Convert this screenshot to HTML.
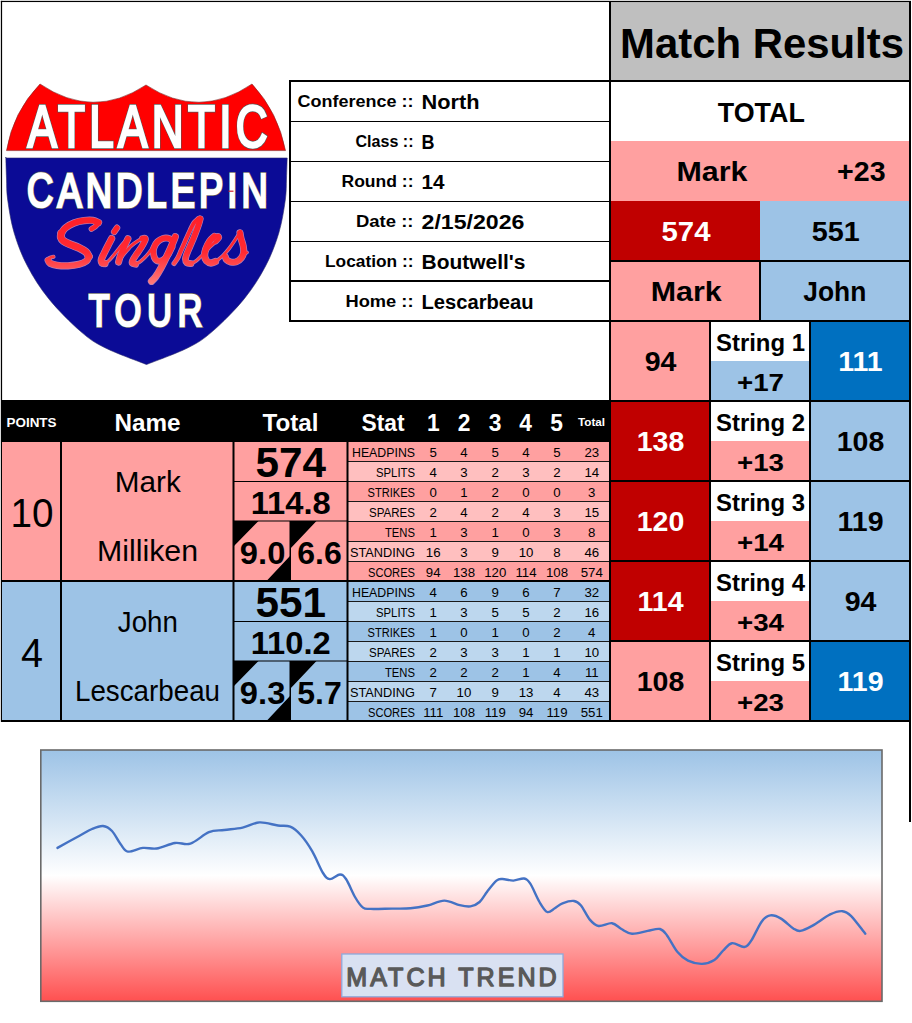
<!DOCTYPE html>
<html><head><meta charset="utf-8"><title>Match Results</title>
<style>
html,body{margin:0;padding:0;background:#fff;}
body{width:912px;height:1023px;overflow:hidden;}
svg{display:block;font-family:"Liberation Sans",sans-serif;}
</style></head><body>
<svg width="912" height="1023" viewBox="0 0 912 1023">
<rect x="0" y="0" width="912" height="1023" fill="#fff"/>
<rect x="610" y="2" width="300" height="79" fill="#BFBFBF"/>
<rect x="610" y="81" width="300" height="60" fill="#fff"/>
<rect x="610" y="141" width="300" height="60" fill="#FFA0A0"/>
<rect x="610" y="201" width="150" height="60" fill="#C00000"/>
<rect x="760" y="201" width="150" height="60" fill="#9DC3E6"/>
<rect x="610" y="261" width="150" height="60" fill="#FFA0A0"/>
<rect x="760" y="261" width="150" height="60" fill="#9DC3E6"/>
<text x="762" y="57.8" font-size="41.8" font-weight="bold" text-anchor="middle" fill="#000" textLength="284.00" lengthAdjust="spacingAndGlyphs">Match Results</text>
<text x="761.3" y="121.6" font-size="27" font-weight="bold" text-anchor="middle" fill="#000" textLength="87.00" lengthAdjust="spacingAndGlyphs">TOTAL</text>
<text x="712" y="181.3" font-size="26.8" font-weight="bold" text-anchor="middle" fill="#000" textLength="71.00" lengthAdjust="spacingAndGlyphs">Mark</text>
<text x="861.3" y="181.3" font-size="26.8" font-weight="bold" text-anchor="middle" fill="#000" textLength="48.50" lengthAdjust="spacingAndGlyphs">+23</text>
<text x="686" y="241.2" font-size="26.8" font-weight="bold" text-anchor="middle" fill="#fff" textLength="49.00" lengthAdjust="spacingAndGlyphs">574</text>
<text x="835.7" y="241.2" font-size="26.8" font-weight="bold" text-anchor="middle" fill="#000" textLength="48.00" lengthAdjust="spacingAndGlyphs">551</text>
<text x="686.2" y="301.2" font-size="26.8" font-weight="bold" text-anchor="middle" fill="#000" textLength="71.00" lengthAdjust="spacingAndGlyphs">Mark</text>
<text x="834.8" y="301.2" font-size="26.8" font-weight="bold" text-anchor="middle" fill="#000" textLength="63.00" lengthAdjust="spacingAndGlyphs">John</text>
<rect x="610" y="321" width="100" height="80" fill="#FFA0A0"/>
<rect x="710" y="321" width="100" height="40" fill="#fff"/>
<rect x="710" y="361" width="100" height="40" fill="#9DC3E6"/>
<rect x="810" y="321" width="100" height="80" fill="#0070C0"/>
<text x="660.5" y="371.2" font-size="28.5" font-weight="bold" text-anchor="middle" fill="#000" textLength="31.70" lengthAdjust="spacingAndGlyphs">94</text>
<text x="860.5" y="371.2" font-size="28.5" font-weight="bold" text-anchor="middle" fill="#fff" textLength="44.40" lengthAdjust="spacingAndGlyphs">111</text>
<text x="760.5" y="351" font-size="24" font-weight="bold" text-anchor="middle" fill="#000" textLength="89.00" lengthAdjust="spacingAndGlyphs">String 1</text>
<text x="760.5" y="391" font-size="24" font-weight="bold" text-anchor="middle" fill="#000" textLength="47.00" lengthAdjust="spacingAndGlyphs">+17</text>
<rect x="610" y="320" width="300" height="2" fill="#000"/>
<rect x="610" y="401" width="100" height="80" fill="#C00000"/>
<rect x="710" y="401" width="100" height="40" fill="#fff"/>
<rect x="710" y="441" width="100" height="40" fill="#FFA0A0"/>
<rect x="810" y="401" width="100" height="80" fill="#9DC3E6"/>
<text x="660.5" y="451.2" font-size="28.5" font-weight="bold" text-anchor="middle" fill="#fff" textLength="47.55" lengthAdjust="spacingAndGlyphs">138</text>
<text x="860.5" y="451.2" font-size="28.5" font-weight="bold" text-anchor="middle" fill="#000" textLength="47.55" lengthAdjust="spacingAndGlyphs">108</text>
<text x="760.5" y="431" font-size="24" font-weight="bold" text-anchor="middle" fill="#000" textLength="89.00" lengthAdjust="spacingAndGlyphs">String 2</text>
<text x="760.5" y="471" font-size="24" font-weight="bold" text-anchor="middle" fill="#000" textLength="47.00" lengthAdjust="spacingAndGlyphs">+13</text>
<rect x="610" y="400" width="300" height="2" fill="#000"/>
<rect x="610" y="481" width="100" height="80" fill="#C00000"/>
<rect x="710" y="481" width="100" height="40" fill="#fff"/>
<rect x="710" y="521" width="100" height="40" fill="#FFA0A0"/>
<rect x="810" y="481" width="100" height="80" fill="#9DC3E6"/>
<text x="660.5" y="531.2" font-size="28.5" font-weight="bold" text-anchor="middle" fill="#fff" textLength="47.55" lengthAdjust="spacingAndGlyphs">120</text>
<text x="860.5" y="531.2" font-size="28.5" font-weight="bold" text-anchor="middle" fill="#000" textLength="45.98" lengthAdjust="spacingAndGlyphs">119</text>
<text x="760.5" y="511" font-size="24" font-weight="bold" text-anchor="middle" fill="#000" textLength="89.00" lengthAdjust="spacingAndGlyphs">String 3</text>
<text x="760.5" y="551" font-size="24" font-weight="bold" text-anchor="middle" fill="#000" textLength="47.00" lengthAdjust="spacingAndGlyphs">+14</text>
<rect x="610" y="480" width="300" height="2" fill="#000"/>
<rect x="610" y="561" width="100" height="80" fill="#C00000"/>
<rect x="710" y="561" width="100" height="40" fill="#fff"/>
<rect x="710" y="601" width="100" height="40" fill="#FFA0A0"/>
<rect x="810" y="561" width="100" height="80" fill="#9DC3E6"/>
<text x="660.5" y="611.2" font-size="28.5" font-weight="bold" text-anchor="middle" fill="#fff" textLength="45.98" lengthAdjust="spacingAndGlyphs">114</text>
<text x="860.5" y="611.2" font-size="28.5" font-weight="bold" text-anchor="middle" fill="#000" textLength="31.70" lengthAdjust="spacingAndGlyphs">94</text>
<text x="760.5" y="591" font-size="24" font-weight="bold" text-anchor="middle" fill="#000" textLength="89.00" lengthAdjust="spacingAndGlyphs">String 4</text>
<text x="760.5" y="631" font-size="24" font-weight="bold" text-anchor="middle" fill="#000" textLength="47.00" lengthAdjust="spacingAndGlyphs">+34</text>
<rect x="610" y="560" width="300" height="2" fill="#000"/>
<rect x="610" y="641" width="100" height="80" fill="#FFA0A0"/>
<rect x="710" y="641" width="100" height="40" fill="#fff"/>
<rect x="710" y="681" width="100" height="40" fill="#FFA0A0"/>
<rect x="810" y="641" width="100" height="80" fill="#0070C0"/>
<text x="660.5" y="691.2" font-size="28.5" font-weight="bold" text-anchor="middle" fill="#000" textLength="47.55" lengthAdjust="spacingAndGlyphs">108</text>
<text x="860.5" y="691.2" font-size="28.5" font-weight="bold" text-anchor="middle" fill="#fff" textLength="45.98" lengthAdjust="spacingAndGlyphs">119</text>
<text x="760.5" y="671" font-size="24" font-weight="bold" text-anchor="middle" fill="#000" textLength="89.00" lengthAdjust="spacingAndGlyphs">String 5</text>
<text x="760.5" y="711" font-size="24" font-weight="bold" text-anchor="middle" fill="#000" textLength="47.00" lengthAdjust="spacingAndGlyphs">+23</text>
<rect x="610" y="640" width="300" height="2" fill="#000"/>
<rect x="610" y="720" width="300" height="2" fill="#000"/>
<rect x="709" y="321" width="2" height="400" fill="#000"/>
<rect x="809" y="321" width="2" height="400" fill="#000"/>
<rect x="610" y="80" width="300" height="2" fill="#000"/>
<rect x="610" y="260" width="300" height="2" fill="#000"/>
<rect x="759" y="261" width="2" height="60" fill="#000"/>
<rect x="909" y="1" width="2" height="821" fill="#000"/>
<rect x="0.85" y="0.85" width="1.25" height="721" fill="#000"/>
<rect x="0.85" y="0.85" width="910.1" height="1.2" fill="#000"/>
<text x="413.5" y="107.2" font-size="17.3" font-weight="bold" text-anchor="end" fill="#000" textLength="116.00" lengthAdjust="spacingAndGlyphs">Conference ::</text>
<text x="421.5" y="109" font-size="20" font-weight="bold" text-anchor="start" fill="#000" textLength="58.00" lengthAdjust="spacingAndGlyphs">North</text>
<text x="413.5" y="147.2" font-size="17.3" font-weight="bold" text-anchor="end" fill="#000" textLength="58.00" lengthAdjust="spacingAndGlyphs">Class ::</text>
<text x="421.5" y="149" font-size="20" font-weight="bold" text-anchor="start" fill="#000" textLength="13.00" lengthAdjust="spacingAndGlyphs">B</text>
<rect x="290" y="121" width="320" height="1" fill="#000"/>
<text x="413.5" y="187.2" font-size="17.3" font-weight="bold" text-anchor="end" fill="#000" textLength="72.00" lengthAdjust="spacingAndGlyphs">Round ::</text>
<text x="421.5" y="189" font-size="20" font-weight="bold" text-anchor="start" fill="#000" textLength="23.00" lengthAdjust="spacingAndGlyphs">14</text>
<rect x="290" y="161" width="320" height="1" fill="#000"/>
<text x="413.5" y="227.2" font-size="17.3" font-weight="bold" text-anchor="end" fill="#000" textLength="57.50" lengthAdjust="spacingAndGlyphs">Date ::</text>
<text x="421.5" y="229" font-size="20" font-weight="bold" text-anchor="start" fill="#000" textLength="103.00" lengthAdjust="spacingAndGlyphs">2/15/2026</text>
<rect x="290" y="201" width="320" height="1" fill="#000"/>
<text x="413.5" y="267.2" font-size="17.3" font-weight="bold" text-anchor="end" fill="#000" textLength="88.50" lengthAdjust="spacingAndGlyphs">Location ::</text>
<text x="421.5" y="269" font-size="20" font-weight="bold" text-anchor="start" fill="#000" textLength="104.00" lengthAdjust="spacingAndGlyphs">Boutwell's</text>
<rect x="290" y="241" width="320" height="1" fill="#000"/>
<text x="413.5" y="307.2" font-size="17.3" font-weight="bold" text-anchor="end" fill="#000" textLength="68.00" lengthAdjust="spacingAndGlyphs">Home ::</text>
<text x="421.5" y="309" font-size="20" font-weight="bold" text-anchor="start" fill="#000" textLength="112.00" lengthAdjust="spacingAndGlyphs">Lescarbeau</text>
<rect x="290" y="280" width="320" height="2" fill="#000"/>
<rect x="289" y="80" width="321" height="2" fill="#000"/>
<rect x="289" y="320" width="321" height="2" fill="#000"/>
<rect x="289" y="80" width="2" height="242" fill="#000"/>
<rect x="2" y="400" width="608" height="42" fill="#000"/>
<text x="31.5" y="426.8" font-size="13.2" font-weight="bold" text-anchor="middle" fill="#fff" textLength="50.00" lengthAdjust="spacingAndGlyphs">POINTS</text>
<text x="147.5" y="431.3" font-size="24" font-weight="bold" text-anchor="middle" fill="#fff" textLength="66.00" lengthAdjust="spacingAndGlyphs">Name</text>
<text x="290.5" y="431.3" font-size="24" font-weight="bold" text-anchor="middle" fill="#fff" textLength="56.00" lengthAdjust="spacingAndGlyphs">Total</text>
<text x="383" y="431.3" font-size="24" font-weight="bold" text-anchor="middle" fill="#fff" textLength="43.00" lengthAdjust="spacingAndGlyphs">Stat</text>
<text x="433.4" y="431.3" font-size="24" font-weight="bold" text-anchor="middle" fill="#fff" textLength="12.68" lengthAdjust="spacingAndGlyphs">1</text>
<text x="464" y="431.3" font-size="24" font-weight="bold" text-anchor="middle" fill="#fff" textLength="12.68" lengthAdjust="spacingAndGlyphs">2</text>
<text x="495" y="431.3" font-size="24" font-weight="bold" text-anchor="middle" fill="#fff" textLength="12.68" lengthAdjust="spacingAndGlyphs">3</text>
<text x="525.5" y="431.3" font-size="24" font-weight="bold" text-anchor="middle" fill="#fff" textLength="12.68" lengthAdjust="spacingAndGlyphs">4</text>
<text x="556.5" y="431.3" font-size="24" font-weight="bold" text-anchor="middle" fill="#fff" textLength="12.68" lengthAdjust="spacingAndGlyphs">5</text>
<text x="591.5" y="426.2" font-size="10.8" font-weight="bold" text-anchor="middle" fill="#fff" textLength="27.00" lengthAdjust="spacingAndGlyphs">Total</text>
<rect x="2" y="442" width="608" height="140" fill="#FFA0A0"/>
<text x="415" y="456.8" font-size="13.2" text-anchor="end" fill="#000" textLength="63.00" lengthAdjust="spacingAndGlyphs">HEADPINS</text>
<text x="433.2" y="456.8" font-size="13.2" text-anchor="middle" fill="#000" textLength="7.37" lengthAdjust="spacingAndGlyphs">5</text>
<text x="464" y="456.8" font-size="13.2" text-anchor="middle" fill="#000" textLength="7.37" lengthAdjust="spacingAndGlyphs">4</text>
<text x="495.3" y="456.8" font-size="13.2" text-anchor="middle" fill="#000" textLength="7.37" lengthAdjust="spacingAndGlyphs">5</text>
<text x="526" y="456.8" font-size="13.2" text-anchor="middle" fill="#000" textLength="7.37" lengthAdjust="spacingAndGlyphs">4</text>
<text x="557" y="456.8" font-size="13.2" text-anchor="middle" fill="#000" textLength="7.37" lengthAdjust="spacingAndGlyphs">5</text>
<text x="591.8" y="456.8" font-size="13.2" text-anchor="middle" fill="#000" textLength="14.74" lengthAdjust="spacingAndGlyphs">23</text>
<rect x="348" y="462" width="262" height="20" fill="#FFBFBF"/>
<rect x="348" y="461" width="262" height="1" fill="#1a1a1a"/>
<text x="415" y="476.8" font-size="13.2" text-anchor="end" fill="#000" textLength="39.00" lengthAdjust="spacingAndGlyphs">SPLITS</text>
<text x="433.2" y="476.8" font-size="13.2" text-anchor="middle" fill="#000" textLength="7.37" lengthAdjust="spacingAndGlyphs">4</text>
<text x="464" y="476.8" font-size="13.2" text-anchor="middle" fill="#000" textLength="7.37" lengthAdjust="spacingAndGlyphs">3</text>
<text x="495.3" y="476.8" font-size="13.2" text-anchor="middle" fill="#000" textLength="7.37" lengthAdjust="spacingAndGlyphs">2</text>
<text x="526" y="476.8" font-size="13.2" text-anchor="middle" fill="#000" textLength="7.37" lengthAdjust="spacingAndGlyphs">3</text>
<text x="557" y="476.8" font-size="13.2" text-anchor="middle" fill="#000" textLength="7.37" lengthAdjust="spacingAndGlyphs">2</text>
<text x="591.8" y="476.8" font-size="13.2" text-anchor="middle" fill="#000" textLength="14.74" lengthAdjust="spacingAndGlyphs">14</text>
<rect x="348" y="481" width="262" height="1" fill="#1a1a1a"/>
<text x="415" y="496.8" font-size="13.2" text-anchor="end" fill="#000" textLength="47.50" lengthAdjust="spacingAndGlyphs">STRIKES</text>
<text x="433.2" y="496.8" font-size="13.2" text-anchor="middle" fill="#000" textLength="7.37" lengthAdjust="spacingAndGlyphs">0</text>
<text x="464" y="496.8" font-size="13.2" text-anchor="middle" fill="#000" textLength="7.37" lengthAdjust="spacingAndGlyphs">1</text>
<text x="495.3" y="496.8" font-size="13.2" text-anchor="middle" fill="#000" textLength="7.37" lengthAdjust="spacingAndGlyphs">2</text>
<text x="526" y="496.8" font-size="13.2" text-anchor="middle" fill="#000" textLength="7.37" lengthAdjust="spacingAndGlyphs">0</text>
<text x="557" y="496.8" font-size="13.2" text-anchor="middle" fill="#000" textLength="7.37" lengthAdjust="spacingAndGlyphs">0</text>
<text x="591.8" y="496.8" font-size="13.2" text-anchor="middle" fill="#000" textLength="7.37" lengthAdjust="spacingAndGlyphs">3</text>
<rect x="348" y="502" width="262" height="20" fill="#FFBFBF"/>
<rect x="348" y="501" width="262" height="1" fill="#1a1a1a"/>
<text x="415" y="516.8" font-size="13.2" text-anchor="end" fill="#000" textLength="46.00" lengthAdjust="spacingAndGlyphs">SPARES</text>
<text x="433.2" y="516.8" font-size="13.2" text-anchor="middle" fill="#000" textLength="7.37" lengthAdjust="spacingAndGlyphs">2</text>
<text x="464" y="516.8" font-size="13.2" text-anchor="middle" fill="#000" textLength="7.37" lengthAdjust="spacingAndGlyphs">4</text>
<text x="495.3" y="516.8" font-size="13.2" text-anchor="middle" fill="#000" textLength="7.37" lengthAdjust="spacingAndGlyphs">2</text>
<text x="526" y="516.8" font-size="13.2" text-anchor="middle" fill="#000" textLength="7.37" lengthAdjust="spacingAndGlyphs">4</text>
<text x="557" y="516.8" font-size="13.2" text-anchor="middle" fill="#000" textLength="7.37" lengthAdjust="spacingAndGlyphs">3</text>
<text x="591.8" y="516.8" font-size="13.2" text-anchor="middle" fill="#000" textLength="14.74" lengthAdjust="spacingAndGlyphs">15</text>
<rect x="348" y="521" width="262" height="1" fill="#1a1a1a"/>
<text x="415" y="536.8" font-size="13.2" text-anchor="end" fill="#000" textLength="30.00" lengthAdjust="spacingAndGlyphs">TENS</text>
<text x="433.2" y="536.8" font-size="13.2" text-anchor="middle" fill="#000" textLength="7.37" lengthAdjust="spacingAndGlyphs">1</text>
<text x="464" y="536.8" font-size="13.2" text-anchor="middle" fill="#000" textLength="7.37" lengthAdjust="spacingAndGlyphs">3</text>
<text x="495.3" y="536.8" font-size="13.2" text-anchor="middle" fill="#000" textLength="7.37" lengthAdjust="spacingAndGlyphs">1</text>
<text x="526" y="536.8" font-size="13.2" text-anchor="middle" fill="#000" textLength="7.37" lengthAdjust="spacingAndGlyphs">0</text>
<text x="557" y="536.8" font-size="13.2" text-anchor="middle" fill="#000" textLength="7.37" lengthAdjust="spacingAndGlyphs">3</text>
<text x="591.8" y="536.8" font-size="13.2" text-anchor="middle" fill="#000" textLength="7.37" lengthAdjust="spacingAndGlyphs">8</text>
<rect x="348" y="542" width="262" height="20" fill="#FFBFBF"/>
<rect x="348" y="541" width="262" height="1" fill="#1a1a1a"/>
<text x="415" y="556.8" font-size="13.2" text-anchor="end" fill="#000" textLength="65.00" lengthAdjust="spacingAndGlyphs">STANDING</text>
<text x="433.2" y="556.8" font-size="13.2" text-anchor="middle" fill="#000" textLength="14.74" lengthAdjust="spacingAndGlyphs">16</text>
<text x="464" y="556.8" font-size="13.2" text-anchor="middle" fill="#000" textLength="7.37" lengthAdjust="spacingAndGlyphs">3</text>
<text x="495.3" y="556.8" font-size="13.2" text-anchor="middle" fill="#000" textLength="7.37" lengthAdjust="spacingAndGlyphs">9</text>
<text x="526" y="556.8" font-size="13.2" text-anchor="middle" fill="#000" textLength="14.74" lengthAdjust="spacingAndGlyphs">10</text>
<text x="557" y="556.8" font-size="13.2" text-anchor="middle" fill="#000" textLength="7.37" lengthAdjust="spacingAndGlyphs">8</text>
<text x="591.8" y="556.8" font-size="13.2" text-anchor="middle" fill="#000" textLength="14.74" lengthAdjust="spacingAndGlyphs">46</text>
<rect x="348" y="561" width="262" height="1" fill="#1a1a1a"/>
<text x="415" y="576.8" font-size="13.2" text-anchor="end" fill="#000" textLength="47.00" lengthAdjust="spacingAndGlyphs">SCORES</text>
<text x="433.2" y="576.8" font-size="13.2" text-anchor="middle" fill="#000" textLength="14.74" lengthAdjust="spacingAndGlyphs">94</text>
<text x="464" y="576.8" font-size="13.2" text-anchor="middle" fill="#000" textLength="22.11" lengthAdjust="spacingAndGlyphs">138</text>
<text x="495.3" y="576.8" font-size="13.2" text-anchor="middle" fill="#000" textLength="22.11" lengthAdjust="spacingAndGlyphs">120</text>
<text x="526" y="576.8" font-size="13.2" text-anchor="middle" fill="#000" textLength="21.12" lengthAdjust="spacingAndGlyphs">114</text>
<text x="557" y="576.8" font-size="13.2" text-anchor="middle" fill="#000" textLength="22.11" lengthAdjust="spacingAndGlyphs">108</text>
<text x="591.8" y="576.8" font-size="13.2" text-anchor="middle" fill="#000" textLength="22.11" lengthAdjust="spacingAndGlyphs">574</text>
<text x="32" y="527.3" font-size="40.2" text-anchor="middle" fill="#000" textLength="43.00" lengthAdjust="spacingAndGlyphs">10</text>
<text x="147.8" y="491.8" font-size="28.8" text-anchor="middle" fill="#000" textLength="66.00" lengthAdjust="spacingAndGlyphs">Mark</text>
<text x="147.5" y="561" font-size="28.8" text-anchor="middle" fill="#000" textLength="101.00" lengthAdjust="spacingAndGlyphs">Milliken</text>
<text x="290.7" y="477.2" font-size="42.8" font-weight="bold" text-anchor="middle" fill="#000" textLength="70.50" lengthAdjust="spacingAndGlyphs">574</text>
<text x="290.7" y="513.7" font-size="31.4" font-weight="bold" text-anchor="middle" fill="#000" textLength="80.00" lengthAdjust="spacingAndGlyphs">114.8</text>
<text x="262.6" y="563.5" font-size="30.6" font-weight="bold" text-anchor="middle" fill="#000" textLength="45.50" lengthAdjust="spacingAndGlyphs">9.0</text>
<text x="319.5" y="563.5" font-size="30.6" font-weight="bold" text-anchor="middle" fill="#000" textLength="44.50" lengthAdjust="spacingAndGlyphs">6.6</text>
<rect x="234" y="481" width="113" height="1" fill="#000"/>
<rect x="234" y="520.5" width="113" height="1" fill="#000"/>
<path d="M234,521 h24.5 L234,546 Z M290,521 h26.5 L290,549 Z M290,581 h-23.5 L290,556 Z" fill="#000"/>
<rect x="289.5" y="521" width="1.5" height="60" fill="#000"/>
<rect x="1" y="580" width="609" height="2" fill="#000"/>
<rect x="2" y="582" width="608" height="140" fill="#9DC3E6"/>
<text x="415" y="596.8" font-size="13.2" text-anchor="end" fill="#000" textLength="63.00" lengthAdjust="spacingAndGlyphs">HEADPINS</text>
<text x="433.2" y="596.8" font-size="13.2" text-anchor="middle" fill="#000" textLength="7.37" lengthAdjust="spacingAndGlyphs">4</text>
<text x="464" y="596.8" font-size="13.2" text-anchor="middle" fill="#000" textLength="7.37" lengthAdjust="spacingAndGlyphs">6</text>
<text x="495.3" y="596.8" font-size="13.2" text-anchor="middle" fill="#000" textLength="7.37" lengthAdjust="spacingAndGlyphs">9</text>
<text x="526" y="596.8" font-size="13.2" text-anchor="middle" fill="#000" textLength="7.37" lengthAdjust="spacingAndGlyphs">6</text>
<text x="557" y="596.8" font-size="13.2" text-anchor="middle" fill="#000" textLength="7.37" lengthAdjust="spacingAndGlyphs">7</text>
<text x="591.8" y="596.8" font-size="13.2" text-anchor="middle" fill="#000" textLength="14.74" lengthAdjust="spacingAndGlyphs">32</text>
<rect x="348" y="602" width="262" height="20" fill="#BDD7EE"/>
<rect x="348" y="601" width="262" height="1" fill="#1a1a1a"/>
<text x="415" y="616.8" font-size="13.2" text-anchor="end" fill="#000" textLength="39.00" lengthAdjust="spacingAndGlyphs">SPLITS</text>
<text x="433.2" y="616.8" font-size="13.2" text-anchor="middle" fill="#000" textLength="7.37" lengthAdjust="spacingAndGlyphs">1</text>
<text x="464" y="616.8" font-size="13.2" text-anchor="middle" fill="#000" textLength="7.37" lengthAdjust="spacingAndGlyphs">3</text>
<text x="495.3" y="616.8" font-size="13.2" text-anchor="middle" fill="#000" textLength="7.37" lengthAdjust="spacingAndGlyphs">5</text>
<text x="526" y="616.8" font-size="13.2" text-anchor="middle" fill="#000" textLength="7.37" lengthAdjust="spacingAndGlyphs">5</text>
<text x="557" y="616.8" font-size="13.2" text-anchor="middle" fill="#000" textLength="7.37" lengthAdjust="spacingAndGlyphs">2</text>
<text x="591.8" y="616.8" font-size="13.2" text-anchor="middle" fill="#000" textLength="14.74" lengthAdjust="spacingAndGlyphs">16</text>
<rect x="348" y="621" width="262" height="1" fill="#1a1a1a"/>
<text x="415" y="636.8" font-size="13.2" text-anchor="end" fill="#000" textLength="47.50" lengthAdjust="spacingAndGlyphs">STRIKES</text>
<text x="433.2" y="636.8" font-size="13.2" text-anchor="middle" fill="#000" textLength="7.37" lengthAdjust="spacingAndGlyphs">1</text>
<text x="464" y="636.8" font-size="13.2" text-anchor="middle" fill="#000" textLength="7.37" lengthAdjust="spacingAndGlyphs">0</text>
<text x="495.3" y="636.8" font-size="13.2" text-anchor="middle" fill="#000" textLength="7.37" lengthAdjust="spacingAndGlyphs">1</text>
<text x="526" y="636.8" font-size="13.2" text-anchor="middle" fill="#000" textLength="7.37" lengthAdjust="spacingAndGlyphs">0</text>
<text x="557" y="636.8" font-size="13.2" text-anchor="middle" fill="#000" textLength="7.37" lengthAdjust="spacingAndGlyphs">2</text>
<text x="591.8" y="636.8" font-size="13.2" text-anchor="middle" fill="#000" textLength="7.37" lengthAdjust="spacingAndGlyphs">4</text>
<rect x="348" y="642" width="262" height="20" fill="#BDD7EE"/>
<rect x="348" y="641" width="262" height="1" fill="#1a1a1a"/>
<text x="415" y="656.8" font-size="13.2" text-anchor="end" fill="#000" textLength="46.00" lengthAdjust="spacingAndGlyphs">SPARES</text>
<text x="433.2" y="656.8" font-size="13.2" text-anchor="middle" fill="#000" textLength="7.37" lengthAdjust="spacingAndGlyphs">2</text>
<text x="464" y="656.8" font-size="13.2" text-anchor="middle" fill="#000" textLength="7.37" lengthAdjust="spacingAndGlyphs">3</text>
<text x="495.3" y="656.8" font-size="13.2" text-anchor="middle" fill="#000" textLength="7.37" lengthAdjust="spacingAndGlyphs">3</text>
<text x="526" y="656.8" font-size="13.2" text-anchor="middle" fill="#000" textLength="7.37" lengthAdjust="spacingAndGlyphs">1</text>
<text x="557" y="656.8" font-size="13.2" text-anchor="middle" fill="#000" textLength="7.37" lengthAdjust="spacingAndGlyphs">1</text>
<text x="591.8" y="656.8" font-size="13.2" text-anchor="middle" fill="#000" textLength="14.74" lengthAdjust="spacingAndGlyphs">10</text>
<rect x="348" y="661" width="262" height="1" fill="#1a1a1a"/>
<text x="415" y="676.8" font-size="13.2" text-anchor="end" fill="#000" textLength="30.00" lengthAdjust="spacingAndGlyphs">TENS</text>
<text x="433.2" y="676.8" font-size="13.2" text-anchor="middle" fill="#000" textLength="7.37" lengthAdjust="spacingAndGlyphs">2</text>
<text x="464" y="676.8" font-size="13.2" text-anchor="middle" fill="#000" textLength="7.37" lengthAdjust="spacingAndGlyphs">2</text>
<text x="495.3" y="676.8" font-size="13.2" text-anchor="middle" fill="#000" textLength="7.37" lengthAdjust="spacingAndGlyphs">2</text>
<text x="526" y="676.8" font-size="13.2" text-anchor="middle" fill="#000" textLength="7.37" lengthAdjust="spacingAndGlyphs">1</text>
<text x="557" y="676.8" font-size="13.2" text-anchor="middle" fill="#000" textLength="7.37" lengthAdjust="spacingAndGlyphs">4</text>
<text x="591.8" y="676.8" font-size="13.2" text-anchor="middle" fill="#000" textLength="13.76" lengthAdjust="spacingAndGlyphs">11</text>
<rect x="348" y="682" width="262" height="20" fill="#BDD7EE"/>
<rect x="348" y="681" width="262" height="1" fill="#1a1a1a"/>
<text x="415" y="696.8" font-size="13.2" text-anchor="end" fill="#000" textLength="65.00" lengthAdjust="spacingAndGlyphs">STANDING</text>
<text x="433.2" y="696.8" font-size="13.2" text-anchor="middle" fill="#000" textLength="7.37" lengthAdjust="spacingAndGlyphs">7</text>
<text x="464" y="696.8" font-size="13.2" text-anchor="middle" fill="#000" textLength="14.74" lengthAdjust="spacingAndGlyphs">10</text>
<text x="495.3" y="696.8" font-size="13.2" text-anchor="middle" fill="#000" textLength="7.37" lengthAdjust="spacingAndGlyphs">9</text>
<text x="526" y="696.8" font-size="13.2" text-anchor="middle" fill="#000" textLength="14.74" lengthAdjust="spacingAndGlyphs">13</text>
<text x="557" y="696.8" font-size="13.2" text-anchor="middle" fill="#000" textLength="7.37" lengthAdjust="spacingAndGlyphs">4</text>
<text x="591.8" y="696.8" font-size="13.2" text-anchor="middle" fill="#000" textLength="14.74" lengthAdjust="spacingAndGlyphs">43</text>
<rect x="348" y="701" width="262" height="1" fill="#1a1a1a"/>
<text x="415" y="716.8" font-size="13.2" text-anchor="end" fill="#000" textLength="47.00" lengthAdjust="spacingAndGlyphs">SCORES</text>
<text x="433.2" y="716.8" font-size="13.2" text-anchor="middle" fill="#000" textLength="20.14" lengthAdjust="spacingAndGlyphs">111</text>
<text x="464" y="716.8" font-size="13.2" text-anchor="middle" fill="#000" textLength="22.11" lengthAdjust="spacingAndGlyphs">108</text>
<text x="495.3" y="716.8" font-size="13.2" text-anchor="middle" fill="#000" textLength="21.12" lengthAdjust="spacingAndGlyphs">119</text>
<text x="526" y="716.8" font-size="13.2" text-anchor="middle" fill="#000" textLength="14.74" lengthAdjust="spacingAndGlyphs">94</text>
<text x="557" y="716.8" font-size="13.2" text-anchor="middle" fill="#000" textLength="21.12" lengthAdjust="spacingAndGlyphs">119</text>
<text x="591.8" y="716.8" font-size="13.2" text-anchor="middle" fill="#000" textLength="22.11" lengthAdjust="spacingAndGlyphs">551</text>
<text x="32" y="667.3" font-size="40.2" text-anchor="middle" fill="#000" textLength="22.00" lengthAdjust="spacingAndGlyphs">4</text>
<text x="147.8" y="631.8" font-size="28.8" text-anchor="middle" fill="#000" textLength="60.00" lengthAdjust="spacingAndGlyphs">John</text>
<text x="147.5" y="701" font-size="28.8" text-anchor="middle" fill="#000" textLength="145.00" lengthAdjust="spacingAndGlyphs">Lescarbeau</text>
<text x="290.7" y="617.2" font-size="42.8" font-weight="bold" text-anchor="middle" fill="#000" textLength="70.50" lengthAdjust="spacingAndGlyphs">551</text>
<text x="290.7" y="653.7" font-size="31.4" font-weight="bold" text-anchor="middle" fill="#000" textLength="80.00" lengthAdjust="spacingAndGlyphs">110.2</text>
<text x="262.6" y="703.5" font-size="30.6" font-weight="bold" text-anchor="middle" fill="#000" textLength="45.50" lengthAdjust="spacingAndGlyphs">9.3</text>
<text x="319.5" y="703.5" font-size="30.6" font-weight="bold" text-anchor="middle" fill="#000" textLength="44.50" lengthAdjust="spacingAndGlyphs">5.7</text>
<rect x="234" y="621" width="113" height="1" fill="#000"/>
<rect x="234" y="660.5" width="113" height="1" fill="#000"/>
<path d="M234,661 h24.5 L234,686 Z M290,661 h26.5 L290,689 Z M290,721 h-23.5 L290,696 Z" fill="#000"/>
<rect x="289.5" y="661" width="1.5" height="60" fill="#000"/>
<rect x="1" y="720" width="609" height="2" fill="#000"/>
<rect x="60" y="442" width="2" height="279" fill="#000"/>
<rect x="232.5" y="442" width="2" height="279" fill="#000"/>
<rect x="346.5" y="442" width="2" height="279" fill="#000"/>
<rect x="1" y="720" width="910" height="2" fill="#000"/>
<rect x="609" y="1" width="2" height="721" fill="#000"/>
<defs><linearGradient id="cg" x1="0" y1="0" x2="0" y2="1"><stop offset="0" stop-color="#9DC3E6"/><stop offset="0.5" stop-color="#ffffff"/><stop offset="1" stop-color="#FF5050"/></linearGradient></defs>
<rect x="40.8" y="750" width="841.2" height="251.3" fill="url(#cg)" stroke="#6a6a6a" stroke-width="1.6"/>
<path d="M57.5,847.9 C61.2,845.8 74.2,838.6 80.0,835.5 C85.8,832.4 88.2,830.6 92.0,829.0 C95.8,827.4 99.7,825.7 103.0,826.0 C106.3,826.3 109.1,828.0 112.0,831.0 C114.9,834.0 117.8,840.6 120.5,844.0 C123.2,847.4 124.3,851.0 128.0,851.6 C131.7,852.2 138.1,848.4 142.9,847.9 C147.7,847.4 151.3,849.3 156.7,848.5 C162.0,847.7 169.4,843.8 175.0,843.0 C180.6,842.2 184.8,845.4 190.4,843.6 C196.1,841.8 203.3,834.5 208.9,832.2 C214.5,829.9 218.6,830.8 224.2,830.0 C229.8,829.2 236.7,828.9 242.6,827.6 C248.5,826.3 253.6,822.8 259.5,822.4 C265.4,822.0 272.9,824.8 278.0,825.5 C283.1,826.2 286.4,825.1 290.2,826.7 C294.0,828.3 297.3,831.2 301.0,835.3 C304.7,839.4 308.6,845.1 312.3,851.4 C316.0,857.7 320.1,868.4 323.0,873.0 C325.9,877.6 327.0,878.9 329.8,879.1 C332.6,879.4 337.3,874.5 340.0,874.5 C342.7,874.5 343.4,875.2 346.0,879.0 C348.6,882.8 352.5,892.7 355.3,897.5 C358.1,902.3 360.4,905.7 363.0,907.6 C365.6,909.5 365.8,908.7 370.6,908.9 C375.4,909.1 385.4,908.7 392.0,908.6 C398.6,908.5 404.6,908.8 410.5,908.3 C416.4,907.8 421.8,906.8 427.4,905.5 C433.0,904.2 438.9,900.6 444.3,900.6 C449.7,900.6 455.4,904.2 459.7,905.2 C464.0,906.2 467.1,906.9 470.4,906.4 C473.7,905.9 476.8,904.5 479.6,902.0 C482.4,899.5 484.5,895.0 487.3,891.4 C490.1,887.8 493.9,882.7 496.5,880.6 C499.1,878.5 499.8,879.0 502.6,879.0 C505.4,879.0 509.8,880.7 513.4,880.6 C517.0,880.5 521.3,878.0 524.1,878.5 C526.9,879.0 527.7,879.8 530.3,883.7 C532.9,887.6 536.7,897.3 539.5,902.0 C542.3,906.7 544.7,911.0 547.2,912.0 C549.8,913.0 552.2,909.8 554.8,908.3 C557.3,906.8 559.3,904.5 562.5,903.3 C565.7,902.1 570.9,900.6 574.0,901.0 C577.1,901.4 578.4,902.5 581.0,905.6 C583.6,908.7 586.9,916.2 589.8,919.6 C592.7,923.0 594.9,925.4 598.6,926.0 C602.3,926.6 608.2,922.7 612.0,923.2 C615.8,923.7 618.1,927.2 621.4,929.0 C624.7,930.8 627.6,933.4 632.0,933.7 C636.4,934.0 643.0,931.7 647.7,930.9 C652.4,930.1 656.8,928.2 660.0,929.0 C663.2,929.8 664.1,931.6 667.0,935.4 C669.9,939.2 674.0,947.8 677.5,952.0 C681.0,956.2 683.9,958.7 688.0,960.7 C692.1,962.7 697.6,964.0 702.0,963.9 C706.4,963.8 710.9,962.2 714.4,960.0 C717.9,957.8 720.3,953.3 723.2,950.5 C726.1,947.7 728.5,943.8 732.0,943.2 C735.5,942.6 741.0,947.4 744.2,947.0 C747.4,946.6 748.3,945.0 751.2,940.7 C754.1,936.4 758.6,925.6 761.8,921.4 C765.0,917.2 767.3,915.9 770.5,915.4 C773.7,914.9 777.2,916.4 781.0,918.6 C784.8,920.8 790.1,926.4 793.3,928.4 C796.5,930.4 797.2,931.4 800.4,930.9 C803.6,930.4 807.6,928.4 812.6,925.6 C817.6,922.9 825.2,916.8 830.2,914.4 C835.2,912.0 839.0,910.9 842.5,911.2 C846.0,911.5 847.4,912.4 851.2,916.1 C855.0,919.9 862.9,930.8 865.3,933.7" fill="none" stroke="#4472C4" stroke-width="2.4" stroke-linecap="round" stroke-linejoin="round"/>
<rect x="341.8" y="954" width="221.2" height="42.8" fill="#D9E1F2" stroke="#8EA9DB" stroke-width="1.3"/>
<text x="346.35" y="985.7" font-size="25.1" letter-spacing="3.00" fill="#595959" stroke="#595959" stroke-width="1.3" stroke-linejoin="round">MATCH TREND</text>
<g id="logo">
<defs>
<linearGradient id="sg" gradientUnits="userSpaceOnUse" x1="0" y1="40" x2="0" y2="300"><stop offset="0" stop-color="#FF1E28"/><stop offset="0.55" stop-color="#FF2A32"/><stop offset="1" stop-color="#FF7070"/></linearGradient>
</defs>
<!-- red top band -->
<path d="M40,84 Q93,120 146,85 Q199,120 252,84 Q278,112 285.5,150.6 L6.5,150.6 Q13,112 40,84 Z" fill="#FF0000" stroke="#7a2a2a" stroke-width="0.6"/>
<!-- blue body -->
<path d="M5.8,158 L287.2,158 C287.1,160.5 286.8,170.8 286.5,178.0 C286.2,185.2 286.6,190.8 285.3,200.0 C284.0,209.2 282.1,222.0 278.8,233.0 C275.5,244.0 271.4,254.9 265.7,265.8 C259.9,276.8 253.2,287.7 244.3,298.7 C235.4,309.7 221.7,323.4 212.2,331.6 C202.7,339.8 198.4,342.5 187.5,348.0 C176.6,353.5 153.3,361.8 146.5,364.5 C139.7,361.8 116.5,353.5 105.5,348.0 C94.5,342.5 90.3,339.8 80.8,331.6 C71.3,323.4 57.6,309.7 48.7,298.7 C39.8,287.7 33.0,276.8 27.3,265.8 C21.5,254.9 17.5,244.0 14.2,233.0 C10.9,222.0 9.0,209.2 7.7,200.0 C6.4,190.8 6.8,185.2 6.5,178.0 C6.2,170.8 5.9,160.5 5.8,157.0 Z" fill="#0B0B96" stroke="#2a2a6a" stroke-width="0.6"/>
<g font-family="&quot;Liberation Sans&quot;,sans-serif" text-anchor="start" stroke-linejoin="miter" stroke-miterlimit="2.5">
<g fill="#555" stroke="#555" stroke-width="3.5">
<text vector-effect="non-scaling-stroke" transform="translate(147.5,146.7) scale(0.755,1)" x="-158.94" y="0" font-size="58.4" letter-spacing="5.72">ATLANTIC</text>
<text vector-effect="non-scaling-stroke" transform="translate(147.3,206.9) scale(0.76,1)" x="-158.22" y="0" font-size="47.8" letter-spacing="5.39">CANDLEPIN</text>
<text vector-effect="non-scaling-stroke" transform="translate(145.5,326.2) scale(0.76,1)" x="-74.67" y="0" font-size="44.8" letter-spacing="7.79">TOUR</text>
</g>
<g fill="#fff" stroke="#fff" stroke-width="2.3">
<text vector-effect="non-scaling-stroke" transform="translate(147.5,146.7) scale(0.755,1)" x="-158.94" y="0" font-size="58.4" letter-spacing="5.72">ATLANTIC</text>
<text vector-effect="non-scaling-stroke" transform="translate(147.3,206.9) scale(0.76,1)" x="-158.22" y="0" font-size="47.8" letter-spacing="5.39">CANDLEPIN</text>
<text vector-effect="non-scaling-stroke" transform="translate(145.5,326.2) scale(0.76,1)" x="-74.67" y="0" font-size="44.8" letter-spacing="7.79">TOUR</text>
</g>
</g>
<rect x="228.5" y="190.6" width="5" height="1.2" fill="#d02030"/>
<!-- Singles script -->
<defs><linearGradient id="sg2" gradientUnits="userSpaceOnUse" x1="0" y1="214" x2="0" y2="284"><stop offset="0" stop-color="#FF1E28"/><stop offset="0.55" stop-color="#FF2A32"/><stop offset="1" stop-color="#FF7A7A"/></linearGradient></defs>
<g fill="none" stroke-linecap="round" stroke-linejoin="round" stroke="#EBA8C4" opacity="0.75">
<path d="M98.5,222.6 C97.6,222.2 95.4,220.7 93.0,220.4 C90.6,220.1 87.2,220.2 84.0,220.6 C80.8,221.0 77.1,221.8 74.0,223.0 C70.9,224.2 67.6,226.1 65.5,227.8 C63.4,229.6 61.9,232.6 61.2,233.5" stroke-width="7.3"/>
<path d="M61.2,233.5 C61.2,234.2 60.6,236.2 61.0,237.5 C61.4,238.8 62.0,239.9 63.5,241.0 C65.0,242.1 67.4,243.2 70.0,244.3 C72.6,245.4 76.3,246.5 79.0,247.8 C81.7,249.1 84.4,250.6 86.0,252.0 C87.6,253.4 88.3,255.8 88.8,256.5" stroke-width="8.1"/>
<path d="M88.8,256.5 C88.4,257.2 88.1,259.7 86.5,261.0 C84.9,262.3 82.1,263.5 79.0,264.3 C75.9,265.1 71.7,265.6 68.0,265.8 C64.3,266.0 60.0,265.7 57.0,265.3 C54.0,264.9 51.5,264.0 50.0,263.2 C48.5,262.4 48.5,260.8 48.2,260.3" stroke-width="7.3"/>
<path d="M98.5,222.6 C98.1,223.1 97.2,224.7 96.0,225.8 C94.8,226.9 92.2,228.5 91.5,229.0" stroke-width="5.7"/>
<path d="M48.2,260.3 C48.5,259.9 49.1,258.4 50.0,257.8 C50.9,257.2 52.9,257.0 53.5,256.8" stroke-width="4.1"/>
<path d="M111.6,238.6 C111.0,239.8 109.3,243.0 108.0,245.5 C106.7,248.0 105.1,251.2 104.0,253.5 C102.9,255.8 101.7,257.9 101.4,259.5 C101.1,261.1 101.4,262.3 102.0,263.0 C102.6,263.7 104.5,263.4 105.0,263.5" stroke-width="7.3"/>
<path d="M105.0,263.5 C105.8,262.8 108.0,261.6 110.0,259.5 C112.0,257.4 114.7,253.9 116.9,251.2 C119.1,248.5 121.3,245.5 123.0,243.5 C124.7,241.5 126.3,240.1 127.0,239.4" stroke-width="3.7"/>
<path d="M114.2,231.8 C114.7,231.1 116.5,228.5 117.0,227.8" stroke-width="6.5"/>
<path d="M127.9,238.8 C127.2,240.2 125.2,244.2 124.0,247.0 C122.8,249.8 121.4,253.0 120.5,255.5 C119.6,258.0 118.9,260.9 118.6,262.0" stroke-width="7.1"/>
<path d="M119.5,260.0 C120.2,259.0 122.1,256.3 124.0,254.0 C125.9,251.7 128.7,248.2 131.0,246.0 C133.3,243.8 136.1,242.0 138.0,240.8 C139.9,239.6 141.8,239.0 142.5,238.6" stroke-width="3.9"/>
<path d="M142.5,238.6 C142.9,238.6 144.6,238.0 145.0,238.3 C145.4,238.6 145.6,239.1 145.0,240.5 C144.4,241.9 143.0,244.6 141.5,247.0 C140.0,249.4 137.5,252.8 136.0,255.0 C134.5,257.2 133.2,259.1 132.6,260.5 C132.0,261.9 131.9,262.7 132.4,263.3 C132.9,263.9 135.1,264.1 135.6,264.2" stroke-width="6.9"/>
<path d="M135.6,264.2 C136.5,263.7 139.0,262.6 141.0,261.0 C143.0,259.4 145.8,256.6 147.6,254.5 C149.4,252.4 151.3,249.5 152.0,248.5" stroke-width="3.7"/>
<path d="M172.5,240.5 C171.8,240.1 169.6,238.5 168.0,238.2 C166.4,237.8 164.8,237.8 163.0,238.4 C161.2,239.0 159.0,240.3 157.5,241.8 C156.0,243.3 154.7,245.5 154.0,247.5 C153.3,249.5 153.2,252.0 153.5,254.0 C153.8,256.0 154.5,258.3 155.5,259.5 C156.5,260.7 158.1,261.3 159.5,261.3 C160.9,261.3 162.5,260.7 164.0,259.5 C165.5,258.3 167.2,256.1 168.5,254.0 C169.8,251.9 171.4,248.2 172.0,247.0" stroke-width="6.9"/>
<path d="M175.3,236.7 C174.7,238.2 173.0,242.6 171.5,246.0 C170.0,249.4 168.2,253.3 166.5,257.0 C164.8,260.7 162.8,264.7 161.0,268.0 C159.2,271.3 157.1,274.8 155.5,277.0 C153.9,279.2 152.2,280.6 151.5,281.3" stroke-width="7.3"/>
<path d="M174.0,263.5 C174.7,262.5 176.8,259.8 178.0,257.5 C179.2,255.2 180.2,252.3 181.5,249.5 C182.8,246.7 184.1,243.7 185.5,240.5 C186.9,237.3 188.6,233.4 190.0,230.5 C191.4,227.6 192.6,224.8 194.0,222.8 C195.4,220.8 197.6,219.3 198.3,218.6" stroke-width="5.1"/>
<path d="M200.2,218.8 C200.0,219.7 199.5,221.9 198.8,224.0 C198.1,226.1 197.2,228.7 196.2,231.3 C195.2,233.9 194.1,236.9 193.0,239.5 C191.9,242.1 190.7,244.7 189.7,247.1 C188.7,249.5 187.5,252.0 186.8,254.0 C186.1,256.0 185.5,257.5 185.5,259.0 C185.5,260.5 186.1,262.1 187.0,262.9 C187.9,263.7 190.3,263.5 191.0,263.6" stroke-width="6.9"/>
<path d="M191.0,263.6 C191.8,263.2 194.0,262.5 196.0,261.0 C198.0,259.5 200.7,256.8 203.0,254.5 C205.3,252.2 207.8,249.2 210.0,247.0 C212.2,244.8 215.0,242.4 216.0,241.5" stroke-width="3.7"/>
<path d="M216.0,241.5 C216.6,240.9 218.9,238.9 219.3,238.0 C219.7,237.1 219.1,236.1 218.3,235.8 C217.5,235.6 215.0,236.4 214.3,236.5" stroke-width="5.5"/>
<path d="M214.3,236.5 C213.5,237.3 210.9,239.4 209.5,241.5 C208.1,243.6 206.6,246.7 205.8,249.0 C205.0,251.3 204.5,253.5 204.6,255.5 C204.7,257.5 205.5,259.6 206.6,260.9 C207.7,262.1 209.5,262.9 211.0,263.0 C212.5,263.1 214.8,261.8 215.5,261.6" stroke-width="7.3"/>
<path d="M215.5,261.6 C216.8,260.6 220.7,257.8 223.0,255.5 C225.3,253.2 227.5,250.6 229.5,248.0 C231.5,245.4 233.3,242.5 235.0,240.0 C236.7,237.5 238.8,234.2 239.6,233.0" stroke-width="3.7"/>
<path d="M240.0,232.8 C240.2,233.7 240.4,235.8 240.9,238.0 C241.4,240.2 242.8,243.6 243.2,246.0 C243.6,248.4 243.9,250.6 243.6,252.5 C243.3,254.4 242.8,256.1 241.6,257.6 C240.4,259.2 238.2,261.1 236.4,261.8 C234.6,262.5 232.1,262.3 230.5,262.0 C228.9,261.7 227.4,260.6 226.6,259.8 C225.8,259.0 225.6,257.5 225.4,257.0" stroke-width="7.1"/>
<path d="M244.0,254.5 C244.5,254.2 246.5,252.8 247.0,252.4" stroke-width="3.7"/>
</g>
<g fill="none" stroke-linecap="round" stroke-linejoin="round" stroke="url(#sg2)">
<path d="M98.5,222.6 C97.6,222.2 95.4,220.7 93.0,220.4 C90.6,220.1 87.2,220.2 84.0,220.6 C80.8,221.0 77.1,221.8 74.0,223.0 C70.9,224.2 67.6,226.1 65.5,227.8 C63.4,229.6 61.9,232.6 61.2,233.5" stroke-width="6"/>
<path d="M61.2,233.5 C61.2,234.2 60.6,236.2 61.0,237.5 C61.4,238.8 62.0,239.9 63.5,241.0 C65.0,242.1 67.4,243.2 70.0,244.3 C72.6,245.4 76.3,246.5 79.0,247.8 C81.7,249.1 84.4,250.6 86.0,252.0 C87.6,253.4 88.3,255.8 88.8,256.5" stroke-width="6.8"/>
<path d="M88.8,256.5 C88.4,257.2 88.1,259.7 86.5,261.0 C84.9,262.3 82.1,263.5 79.0,264.3 C75.9,265.1 71.7,265.6 68.0,265.8 C64.3,266.0 60.0,265.7 57.0,265.3 C54.0,264.9 51.5,264.0 50.0,263.2 C48.5,262.4 48.5,260.8 48.2,260.3" stroke-width="6"/>
<path d="M98.5,222.6 C98.1,223.1 97.2,224.7 96.0,225.8 C94.8,226.9 92.2,228.5 91.5,229.0" stroke-width="4.4"/>
<path d="M48.2,260.3 C48.5,259.9 49.1,258.4 50.0,257.8 C50.9,257.2 52.9,257.0 53.5,256.8" stroke-width="2.8"/>
<path d="M111.6,238.6 C111.0,239.8 109.3,243.0 108.0,245.5 C106.7,248.0 105.1,251.2 104.0,253.5 C102.9,255.8 101.7,257.9 101.4,259.5 C101.1,261.1 101.4,262.3 102.0,263.0 C102.6,263.7 104.5,263.4 105.0,263.5" stroke-width="6"/>
<path d="M105.0,263.5 C105.8,262.8 108.0,261.6 110.0,259.5 C112.0,257.4 114.7,253.9 116.9,251.2 C119.1,248.5 121.3,245.5 123.0,243.5 C124.7,241.5 126.3,240.1 127.0,239.4" stroke-width="2.4"/>
<path d="M114.2,231.8 C114.7,231.1 116.5,228.5 117.0,227.8" stroke-width="5.2"/>
<path d="M127.9,238.8 C127.2,240.2 125.2,244.2 124.0,247.0 C122.8,249.8 121.4,253.0 120.5,255.5 C119.6,258.0 118.9,260.9 118.6,262.0" stroke-width="5.8"/>
<path d="M119.5,260.0 C120.2,259.0 122.1,256.3 124.0,254.0 C125.9,251.7 128.7,248.2 131.0,246.0 C133.3,243.8 136.1,242.0 138.0,240.8 C139.9,239.6 141.8,239.0 142.5,238.6" stroke-width="2.6"/>
<path d="M142.5,238.6 C142.9,238.6 144.6,238.0 145.0,238.3 C145.4,238.6 145.6,239.1 145.0,240.5 C144.4,241.9 143.0,244.6 141.5,247.0 C140.0,249.4 137.5,252.8 136.0,255.0 C134.5,257.2 133.2,259.1 132.6,260.5 C132.0,261.9 131.9,262.7 132.4,263.3 C132.9,263.9 135.1,264.1 135.6,264.2" stroke-width="5.6"/>
<path d="M135.6,264.2 C136.5,263.7 139.0,262.6 141.0,261.0 C143.0,259.4 145.8,256.6 147.6,254.5 C149.4,252.4 151.3,249.5 152.0,248.5" stroke-width="2.4"/>
<path d="M172.5,240.5 C171.8,240.1 169.6,238.5 168.0,238.2 C166.4,237.8 164.8,237.8 163.0,238.4 C161.2,239.0 159.0,240.3 157.5,241.8 C156.0,243.3 154.7,245.5 154.0,247.5 C153.3,249.5 153.2,252.0 153.5,254.0 C153.8,256.0 154.5,258.3 155.5,259.5 C156.5,260.7 158.1,261.3 159.5,261.3 C160.9,261.3 162.5,260.7 164.0,259.5 C165.5,258.3 167.2,256.1 168.5,254.0 C169.8,251.9 171.4,248.2 172.0,247.0" stroke-width="5.6"/>
<path d="M175.3,236.7 C174.7,238.2 173.0,242.6 171.5,246.0 C170.0,249.4 168.2,253.3 166.5,257.0 C164.8,260.7 162.8,264.7 161.0,268.0 C159.2,271.3 157.1,274.8 155.5,277.0 C153.9,279.2 152.2,280.6 151.5,281.3" stroke-width="6"/>
<path d="M174.0,263.5 C174.7,262.5 176.8,259.8 178.0,257.5 C179.2,255.2 180.2,252.3 181.5,249.5 C182.8,246.7 184.1,243.7 185.5,240.5 C186.9,237.3 188.6,233.4 190.0,230.5 C191.4,227.6 192.6,224.8 194.0,222.8 C195.4,220.8 197.6,219.3 198.3,218.6" stroke-width="3.8"/>
<path d="M200.2,218.8 C200.0,219.7 199.5,221.9 198.8,224.0 C198.1,226.1 197.2,228.7 196.2,231.3 C195.2,233.9 194.1,236.9 193.0,239.5 C191.9,242.1 190.7,244.7 189.7,247.1 C188.7,249.5 187.5,252.0 186.8,254.0 C186.1,256.0 185.5,257.5 185.5,259.0 C185.5,260.5 186.1,262.1 187.0,262.9 C187.9,263.7 190.3,263.5 191.0,263.6" stroke-width="5.6"/>
<path d="M191.0,263.6 C191.8,263.2 194.0,262.5 196.0,261.0 C198.0,259.5 200.7,256.8 203.0,254.5 C205.3,252.2 207.8,249.2 210.0,247.0 C212.2,244.8 215.0,242.4 216.0,241.5" stroke-width="2.4"/>
<path d="M216.0,241.5 C216.6,240.9 218.9,238.9 219.3,238.0 C219.7,237.1 219.1,236.1 218.3,235.8 C217.5,235.6 215.0,236.4 214.3,236.5" stroke-width="4.2"/>
<path d="M214.3,236.5 C213.5,237.3 210.9,239.4 209.5,241.5 C208.1,243.6 206.6,246.7 205.8,249.0 C205.0,251.3 204.5,253.5 204.6,255.5 C204.7,257.5 205.5,259.6 206.6,260.9 C207.7,262.1 209.5,262.9 211.0,263.0 C212.5,263.1 214.8,261.8 215.5,261.6" stroke-width="6"/>
<path d="M215.5,261.6 C216.8,260.6 220.7,257.8 223.0,255.5 C225.3,253.2 227.5,250.6 229.5,248.0 C231.5,245.4 233.3,242.5 235.0,240.0 C236.7,237.5 238.8,234.2 239.6,233.0" stroke-width="2.4"/>
<path d="M240.0,232.8 C240.2,233.7 240.4,235.8 240.9,238.0 C241.4,240.2 242.8,243.6 243.2,246.0 C243.6,248.4 243.9,250.6 243.6,252.5 C243.3,254.4 242.8,256.1 241.6,257.6 C240.4,259.2 238.2,261.1 236.4,261.8 C234.6,262.5 232.1,262.3 230.5,262.0 C228.9,261.7 227.4,260.6 226.6,259.8 C225.8,259.0 225.6,257.5 225.4,257.0" stroke-width="5.8"/>
<path d="M244.0,254.5 C244.5,254.2 246.5,252.8 247.0,252.4" stroke-width="2.4"/>
</g>
</g>

</svg>
</body></html>
